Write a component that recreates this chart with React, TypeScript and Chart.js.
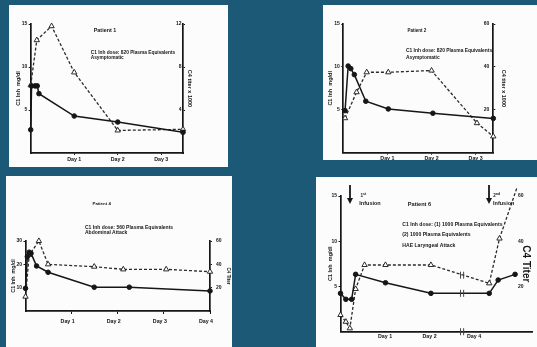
import React, { useEffect, useRef } from 'react';
import { Chart, registerables } from 'chart.js';

Chart.register(...registerables);

// ---------------- Patient 1 ----------------
const P1_C1_DAY = [0, 0.02, 0.1, 0.15, 0.19, 1, 2, 3.5];
const P1_C1 = [2.7, 7.8, 7.8, 7.8, 6.9, 4.3, 3.6, 2.4];
const P1_C4_DAY = [0, 0.14, 0.48, 1, 2, 3.5];
const P1_C4 = [6.3, 10.5, 11.8, 7.5, 2.1, 2.2];
const P1_DAY_TICKS = [1, 2, 3];
const P1_DAY_LABELS = ['Day 1', 'Day 2', 'Day 3'];
const P1_LEFT_TICKS = [5, 10, 15];
const P1_RIGHT_TICKS = [4, 8, 12];

// ---------------- Patient 2 ----------------
const P2_C1_DAY = [0.04, 0.11, 0.17, 0.25, 0.51, 1.02, 2.03, 3.4];
const P2_C1 = [4.9, 10.1, 9.8, 9.1, 6.0, 5.1, 4.6, 4.0];
const P2_C4_DAY = [0.04, 0.3, 0.53, 1.02, 2.0, 3.03, 3.4];
const P2_C4 = [16.1, 28.2, 37.5, 37.5, 38.3, 13.8, 7.6];
const P2_DAY_TICKS = [1, 2, 3];
const P2_DAY_LABELS = ['Day 1', 'Day 2', 'Day 3'];
const P2_LEFT_TICKS = [5, 10, 15];
const P2_RIGHT_TICKS = [20, 40, 60];

// ---------------- Patient 4 ----------------
const P4_C1_DAY = [0, 0.04, 0.08, 0.12, 0.24, 0.49, 1.49, 2.25, 4.0];
const P4_C1 = [9.7, 23.3, 25.2, 24.7, 19.3, 16.6, 10.2, 10.2, 8.6];
const P4_C4_DAY = [0, 0.08, 0.29, 0.49, 1.49, 2.12, 3.05, 4.0];
const P4_C4 = [12.3, 48, 60, 40, 38, 35.7, 35.7, 33.7];
const P4_DAY_TICKS = [1, 2, 3, 4];
const P4_DAY_LABELS = ['Day 1', 'Day 2', 'Day 3', 'Day 4'];
const P4_LEFT_TICKS = [10, 20, 30];
const P4_RIGHT_TICKS = [20, 40, 60];

// ---------------- Patient 6 ----------------
const P6_C1_DAY = [0, 0.12, 0.25, 0.34, 1.01, 2.03, 3.34, 3.54, 3.92];
const P6_C1 = [4.24, 3.58, 3.58, 6.34, 5.41, 4.24, 4.24, 5.71, 6.34];
const P6_C4_DAY = [0, 0.12, 0.21, 0.34, 0.54, 1.01, 2.03, 3.34, 3.57, 3.97];
const P6_C4 = [7.4, 4.4, 1.5, 18.9, 29.5, 29.5, 29.5, 21.4, 41.2, 64.1];
const P6_DAY_TICKS = [1, 2, 3];
const P6_DAY_LABELS = ['Day 1', 'Day 2', 'Day 4'];
const P6_LEFT_TICKS = [5, 10, 15];
const P6_RIGHT_TICKS = [20, 40, 60];
const P6_BREAK_DAY = 2.73;
const P6_BREAK_C1 = 4.24;
const P6_BREAK_C4 = 25;

const INK = '#161616';
const DASH_INK = '#2a2a2a';
const BG = '#1b5977';
const FONT = "'Liberation Sans', Arial, Helvetica, sans-serif";

type Panel = {
  box: { x: number; y: number; w: number; h: number };
  area: { left: number; top: number; right: number; bottom: number };
  xMax: number;
  dayTicks: number[];
  dayLabels: string[];
  xTickLen: number;
  xTickPad: number;
  xLabelOffset: number;
  leftMax: number;
  leftTicks: number[];
  leftTitle: string;
  leftTitleX: number;
  leftTitleSize: number;
  rightMax: number;
  rightTicks: number[];
  rightTitle: string;
  rightTitleX: number;
  rightTitleSize: number;
  rightMirror: boolean;
  rightBorder: boolean;
  rightTickPad: number;
  rightTickLen: number;
  c1x: number[];
  c1y: number[];
  c4x: number[];
  c4y: number[];
  breakX?: number;
  breakC1?: number;
  breakC4?: number;
};

const zip = (xs: number[], ys: number[]) => xs.map((x, i) => ({ x, y: ys[i] }));

const PANELS: Panel[] = [
  {
    box: { x: 9, y: 5, w: 219, h: 162 },
    area: { left: 21.7, top: 19, right: 174, bottom: 148 },
    xMax: 3.5, dayTicks: P1_DAY_TICKS, dayLabels: P1_DAY_LABELS,
    xTickLen: 2, xTickPad: 1, xLabelOffset: 0,
    leftMax: 15, leftTicks: P1_LEFT_TICKS, leftTitle: 'C1 Inh  mg/dl', leftTitleX: 9, leftTitleSize: 5.5,
    rightMax: 12, rightTicks: P1_RIGHT_TICKS, rightTitle: 'C4 titer x 1000', rightTitleX: 181, rightTitleSize: 5.5,
    rightMirror: true, rightBorder: true, rightTickPad: -1.5, rightTickLen: 2,
    c1x: P1_C1_DAY, c1y: P1_C1, c4x: P1_C4_DAY, c4y: P1_C4,
  },
  {
    box: { x: 323, y: 5, w: 214, h: 155 },
    area: { left: 20.3, top: 19, right: 170.3, bottom: 147.7 },
    xMax: 3.4, dayTicks: P2_DAY_TICKS, dayLabels: P2_DAY_LABELS,
    xTickLen: 2, xTickPad: 0.5, xLabelOffset: 0,
    leftMax: 15, leftTicks: P2_LEFT_TICKS, leftTitle: 'C1 Inh  mg/dl', leftTitleX: 7, leftTitleSize: 5.5,
    rightMax: 60, rightTicks: P2_RIGHT_TICKS, rightTitle: 'C4 titer x 1000', rightTitleX: 181, rightTitleSize: 5.5,
    rightMirror: true, rightBorder: true, rightTickPad: -4, rightTickLen: 2,
    c1x: P2_C1_DAY, c1y: P2_C1, c4x: P2_C4_DAY, c4y: P2_C4,
  },
  {
    box: { x: 6, y: 176, w: 226, h: 171 },
    area: { left: 19.5, top: 65, right: 204, bottom: 135 },
    xMax: 4, dayTicks: P4_DAY_TICKS, dayLabels: P4_DAY_LABELS,
    xTickLen: 3, xTickPad: 4.5, xLabelOffset: -4,
    leftMax: 30, leftTicks: P4_LEFT_TICKS, leftTitle: 'C1 Inh  mg/dl', leftTitleX: 7.3, leftTitleSize: 5.3,
    rightMax: 60, rightTicks: P4_RIGHT_TICKS, rightTitle: 'C4 Titer', rightTitleX: 222.7, rightTitleSize: 4.6,
    rightMirror: false, rightBorder: true, rightTickPad: 4, rightTickLen: 2,
    c1x: P4_C1_DAY, c1y: P4_C1, c4x: P4_C4_DAY, c4y: P4_C4,
  },
  {
    box: { x: 316, y: 177, w: 221, h: 170 },
    area: { left: 24.5, top: 19, right: 221, bottom: 154.7 },
    xMax: 4.3, dayTicks: P6_DAY_TICKS, dayLabels: P6_DAY_LABELS,
    xTickLen: 0, xTickPad: 2, xLabelOffset: 0,
    leftMax: 15, leftTicks: P6_LEFT_TICKS, leftTitle: 'C1 Inh  mg/dl', leftTitleX: 14, leftTitleSize: 5.5,
    rightMax: 60, rightTicks: P6_RIGHT_TICKS, rightTitle: 'C4 Titer', rightTitleX: 216, rightTitleSize: 10,
    rightMirror: true, rightBorder: false, rightTickPad: -8.5, rightTickLen: 0,
    c1x: P6_C1_DAY, c1y: P6_C1, c4x: P6_C4_DAY, c4y: P6_C4,
    breakX: P6_BREAK_DAY, breakC1: P6_BREAK_C1, breakC4: P6_BREAK_C4,
  },
];

function buildConfig(p: Panel): any {
  const half = (s: number) => (s * 1.2) / 2;
  const pL = p.leftTitleX - half(p.leftTitleSize);
  const wL = p.area.left - pL;
  const rEdge = Math.min(p.rightTitleX + half(p.rightTitleSize), p.box.w);
  const pR = p.box.w - rEdge;
  const wR = Math.max(rEdge - p.area.right, 0);
  const hX = p.box.h - p.area.bottom;
  const tickFont = { family: FONT, size: 5, weight: 'bold' as const };

  const datasets: any[] = [
    {
      label: 'C1 Inh',
      data: zip(p.c1x, p.c1y),
      yAxisID: 'y',
      borderColor: INK,
      borderWidth: 1.5,
      pointStyle: 'circle',
      pointRadius: 2.3,
      pointBackgroundColor: INK,
      pointBorderColor: INK,
      pointBorderWidth: 1,
      clip: false,
      order: 1,
    },
    {
      label: 'C4 Titer',
      data: zip(p.c4x, p.c4y),
      yAxisID: 'yR',
      borderColor: DASH_INK,
      borderWidth: 1.3,
      borderDash: [3, 2],
      pointStyle: 'triangle',
      pointRadius: 3.1,
      pointBackgroundColor: '#ffffff',
      pointBorderColor: INK,
      pointBorderWidth: 0.9,
      clip: false,
      order: 2,
    },
  ];
  if (p.breakX !== undefined) {
    const bx = [p.breakX - 0.035, p.breakX + 0.035];
    const mk = (ys: number[], axis: string) => ({
      label: 'break',
      data: zip(bx, ys),
      yAxisID: axis,
      showLine: false,
      pointStyle: 'line',
      rotation: 90,
      pointRadius: 3.5,
      pointBorderColor: '#444',
      pointBorderWidth: 1,
      clip: false,
      order: 0,
    });
    datasets.push(mk([p.breakC1!, p.breakC1!], 'y'));
    datasets.push(mk([p.breakC4!, p.breakC4!], 'yR'));
    datasets.push(mk([0, 0], 'y'));
  }

  return {
    type: 'line',
    data: { datasets },
    options: {
      animation: false,
      responsive: false,
      devicePixelRatio: 1,
      events: [],
      layout: { padding: { left: pL, right: pR, top: p.area.top, bottom: 0 } },
      plugins: { legend: { display: false }, tooltip: { enabled: false }, title: { display: false } },
      scales: {
        x: {
          type: 'linear',
          min: 0,
          max: p.xMax,
          afterBuildTicks: (s: any) => { s.ticks = p.dayTicks.map((v) => ({ value: v })); },
          afterFit: (s: any) => { s.height = hX; },
          ticks: {
            callback: (_v: any, i: number) => p.dayLabels[i],
            autoSkip: false,
            maxRotation: 0,
            minRotation: 0,
            font: { family: FONT, size: 5.3, weight: 'bold' },
            color: INK,
            padding: p.xTickPad,
            labelOffset: p.xLabelOffset,
          },
          grid: { display: true, drawOnChartArea: false, drawTicks: p.xTickLen > 0, tickLength: p.xTickLen, color: INK, lineWidth: 1 },
          border: { display: true, color: INK, width: 1.7 },
        },
        y: {
          type: 'linear',
          position: 'left',
          min: 0,
          max: p.leftMax,
          afterBuildTicks: (s: any) => { s.ticks = p.leftTicks.map((v) => ({ value: v })); },
          afterFit: (s: any) => { s.width = wL; },
          ticks: { font: tickFont, color: INK, padding: 1.5, callback: (v: any) => String(v) },
          grid: { display: true, drawOnChartArea: false, tickLength: 2, color: INK, lineWidth: 1 },
          border: { display: true, color: INK, width: 1.7 },
          title: {
            display: true,
            text: p.leftTitle,
            color: INK,
            padding: 0,
            font: { family: FONT, size: p.leftTitleSize, weight: 'bold' },
          },
        },
        yR: {
          type: 'linear',
          position: 'right',
          min: 0,
          max: p.rightMax,
          afterBuildTicks: (s: any) => { s.ticks = p.rightTicks.map((v) => ({ value: v })); },
          afterFit: (s: any) => { s.width = wR; },
          ticks: { font: tickFont, color: INK, padding: p.rightTickPad, mirror: p.rightMirror, callback: (v: any) => String(v) },
          grid: {
            display: p.rightBorder,
            drawOnChartArea: false,
            drawTicks: p.rightTickLen > 0,
            tickLength: p.rightTickLen,
            color: INK,
            lineWidth: 1,
          },
          border: { display: p.rightBorder, color: INK, width: 1.7 },
          title: {
            display: true,
            text: p.rightTitle,
            color: INK,
            padding: 0,
            font: { family: FONT, size: p.rightTitleSize, weight: 'bold' },
          },
        },
      },
    },
  };
}

function PanelChart({ p }: { p: Panel }) {
  const ref = useRef<HTMLCanvasElement>(null);
  useEffect(() => {
    const chart = new Chart(ref.current as HTMLCanvasElement, buildConfig(p));
    return () => chart.destroy();
  }, [p]);
  return (
    <div
      style={{
        position: 'absolute',
        left: p.box.x,
        top: p.box.y,
        width: p.box.w,
        height: p.box.h,
        background: '#fcfcfc',
      }}
    >
      <canvas ref={ref} width={p.box.w} height={p.box.h} style={{ display: 'block', width: p.box.w, height: p.box.h }} />
    </div>
  );
}

type Note = { text: React.ReactNode; x: number; y: number; size: number; center?: boolean };

const NOTES: Note[] = [
  { text: 'Patient 1', x: 105, y: 30.7, size: 5.4, center: true },
  { text: 'C1 Inh dose: 820 Plasma Equivalents', x: 90.7, y: 52.7, size: 4.8 },
  { text: 'Asymptomatic', x: 90.7, y: 57.7, size: 4.8 },
  { text: 'Patient 2', x: 417, y: 30.7, size: 4.5, center: true },
  { text: 'C1 Inh dose: 820 Plasma Equivalents', x: 406, y: 50.7, size: 4.9 },
  { text: 'Asymptomatic', x: 406, y: 57.7, size: 4.9 },
  { text: 'Patient 4', x: 101.7, y: 204.3, size: 4.4, center: true },
  { text: 'C1 Inh dose: 560 Plasma Equivalents', x: 85, y: 226.7, size: 5 },
  { text: 'Abdominal Attack', x: 85, y: 231.9, size: 5 },
  { text: 'Patient 6', x: 419.5, y: 205, size: 5.6, center: true },
  { text: <>1<sup style={{ fontSize: '80%' }}>st</sup></>, x: 360.5, y: 196, size: 4.6 },
  { text: 'Infusion', x: 359.3, y: 204, size: 5.5 },
  { text: <>2<sup style={{ fontSize: '80%' }}>nd</sup></>, x: 493.3, y: 196, size: 4.6 },
  { text: 'Infusion', x: 493, y: 204, size: 5.5 },
  { text: 'C1 Inh dose: (1) 1000 Plasma Equivalents', x: 402.3, y: 225, size: 5.1 },
  { text: '(2) 1000 Plasma Equivalents', x: 402.3, y: 235, size: 5.1 },
  { text: 'HAE Laryngeal Attack', x: 402.3, y: 245.7, size: 5.1 },
];

const ARROWS = [
  { x: 350, y1: 185, y2: 204 },
  { x: 489, y1: 185, y2: 204 },
];

export default function App() {
  return (
    <div
      style={{
        position: 'fixed',
        left: 0,
        top: 0,
        width: 537,
        height: 347,
        overflow: 'hidden',
        background: BG,
        fontFamily: FONT,
      }}
    >
      {PANELS.map((p, i) => (
        <PanelChart key={i} p={p} />
      ))}
      {NOTES.map((n, i) => (
        <div
          key={'n' + i}
          style={{
            position: 'absolute',
            left: n.x,
            top: n.y,
            transform: n.center ? 'translate(-50%, -50%)' : 'translateY(-50%)',
            fontSize: n.size,
            fontWeight: 'bold',
            lineHeight: 1,
            color: INK,
            whiteSpace: 'nowrap',
          }}
        >
          {n.text}
        </div>
      ))}
      {ARROWS.map((a, i) => (
        <svg
          key={'a' + i}
          width={8}
          height={a.y2 - a.y1}
          style={{ position: 'absolute', left: a.x - 4, top: a.y1 }}
        >
          <line x1={4} y1={0} x2={4} y2={a.y2 - a.y1 - 5} stroke={INK} strokeWidth={1.8} />
          <polygon points={`1,${a.y2 - a.y1 - 6} 7,${a.y2 - a.y1 - 6} 4,${a.y2 - a.y1}`} fill={INK} />
        </svg>
      ))}
    </div>
  );
}
